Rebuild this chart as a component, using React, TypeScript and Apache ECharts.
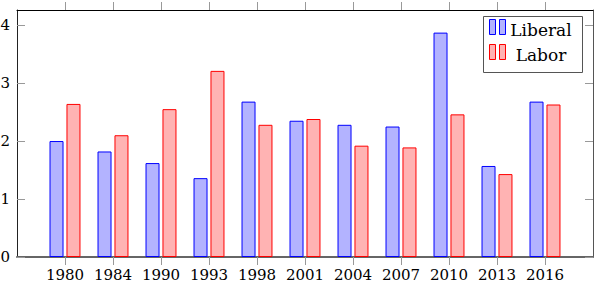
import React, { useEffect, useRef } from "react";
import * as echarts from "echarts";

const years = ["1980", "1984", "1990", "1993", "1998", "2001", "2004", "2007", "2010", "2013", "2016"];
const liberal = [2.0, 1.82, 1.62, 1.36, 2.68, 2.35, 2.28, 2.25, 3.87, 1.57, 2.68];
const labor = [2.64, 2.1, 2.55, 3.21, 2.28, 2.38, 1.92, 1.89, 2.46, 1.43, 2.63];
const yTicks = [0, 1, 2, 3, 4];

const FONT = "DejaVu Serif";
const BLUE = "#0000ff";
const BLUE_FILL = "#b3b3ff";
const RED = "#ff0000";
const RED_FILL = "#ffb3b3";

export default function App() {
  const ref = useRef<HTMLDivElement>(null);
  useEffect(() => {
    if (!ref.current) return;
    const chart = echarts.init(ref.current, undefined, { renderer: "svg" });
    const idx = years.map((_, i) => i);
    const legendX = 483;
    const legendY = 16;
    const icon = (x: number, y: number, fill: string, stroke: string) => ({
      type: "rect",
      shape: { x, y, width: 6, height: 15 },
      style: { fill, stroke, lineWidth: 1 },
    });
    chart.setOption({
      animation: false,
      textStyle: { fontFamily: FONT },
      grid: { left: 17, right: 1, top: 10, bottom: 29, containLabel: false, outerBoundsMode: "none" },
      xAxis: [
        {
          type: "value",
          min: -1,
          max: 11,
          interval: 1,
          position: "bottom",
          splitLine: { show: false },
          axisLine: { show: true, onZero: false, lineStyle: { color: "#666", width: 2 } },
          axisTick: { show: true, inside: false, length: 8, customValues: idx, lineStyle: { color: "#999" } },
          axisLabel: {
            show: true,
            customValues: idx,
            formatter: (v: number) => years[Math.round(v)] ?? "",
            fontFamily: FONT,
            fontSize: 15,
            color: "#000",
            margin: 10,
          },
        },
        {
          type: "value",
          min: -1,
          max: 11,
          interval: 1,
          position: "top",
          splitLine: { show: false },
          axisLine: { show: true, onZero: false, lineStyle: { color: "#000", width: 1 } },
          axisTick: { show: true, inside: false, length: 8, customValues: idx, lineStyle: { color: "#999" } },
          axisLabel: { show: false },
        },
      ],
      yAxis: [
        {
          type: "value",
          min: 0,
          max: 4.26,
          position: "left",
          splitLine: { show: false },
          axisLine: { show: true, onZero: false, lineStyle: { color: "#222", width: 1 } },
          axisTick: { show: true, inside: true, length: 8, customValues: yTicks, lineStyle: { color: "#999" } },
          axisLabel: {
            show: true,
            customValues: yTicks,
            fontFamily: FONT,
            fontSize: 15,
            color: "#000",
            margin: 7,
          },
        },
        {
          type: "value",
          min: 0,
          max: 4.26,
          position: "right",
          splitLine: { show: false },
          axisLine: { show: true, onZero: false, lineStyle: { color: "#555", width: 1 } },
          axisTick: { show: true, inside: true, length: 8, customValues: yTicks, lineStyle: { color: "#999" } },
          axisLabel: { show: false },
        },
      ],
      series: [
        {
          name: "Liberal",
          type: "bar",
          xAxisIndex: 0,
          yAxisIndex: 0,
          barWidth: 14,
          barGap: "21%",
          data: liberal.map((v, i) => [i, v]),
          itemStyle: { color: BLUE_FILL, borderColor: BLUE, borderWidth: 1 },
        },
        {
          name: "Labor",
          type: "bar",
          xAxisIndex: 0,
          yAxisIndex: 0,
          barWidth: 14,
          barGap: "21%",
          data: labor.map((v, i) => [i, v]),
          itemStyle: { color: RED_FILL, borderColor: RED, borderWidth: 1 },
        },
      ],
      graphic: [
        {
          type: "rect",
          z: 100,
          shape: { x: legendX + 0.5, y: legendY + 0.5, width: 99, height: 56 },
          style: { fill: "#fff", stroke: "#555", lineWidth: 1 },
        },
        { ...icon(legendX + 6.5, legendY + 3.5, BLUE_FILL, BLUE), z: 101 },
        { ...icon(legendX + 16.5, legendY + 3.5, BLUE_FILL, BLUE), z: 101 },
        { ...icon(legendX + 6.5, legendY + 28.5, RED_FILL, RED), z: 101 },
        { ...icon(legendX + 16.5, legendY + 28.5, RED_FILL, RED), z: 101 },
        {
          type: "text",
          z: 101,
          x: legendX + 58,
          y: legendY + 14,
          style: { text: "Liberal", fontFamily: FONT, fontSize: 17, fill: "#000", align: "center", verticalAlign: "middle" },
        },
        {
          type: "text",
          z: 101,
          x: legendX + 58,
          y: legendY + 39,
          style: { text: "Labor", fontFamily: FONT, fontSize: 17, fill: "#000", align: "center", verticalAlign: "middle" },
        },
      ],
    });
    return () => chart.dispose();
  }, []);
  return (
    <div
      ref={ref}
      style={{ position: "fixed", left: 0, top: 0, width: 594, height: 286, background: "#fff" }}
    />
  );
}
